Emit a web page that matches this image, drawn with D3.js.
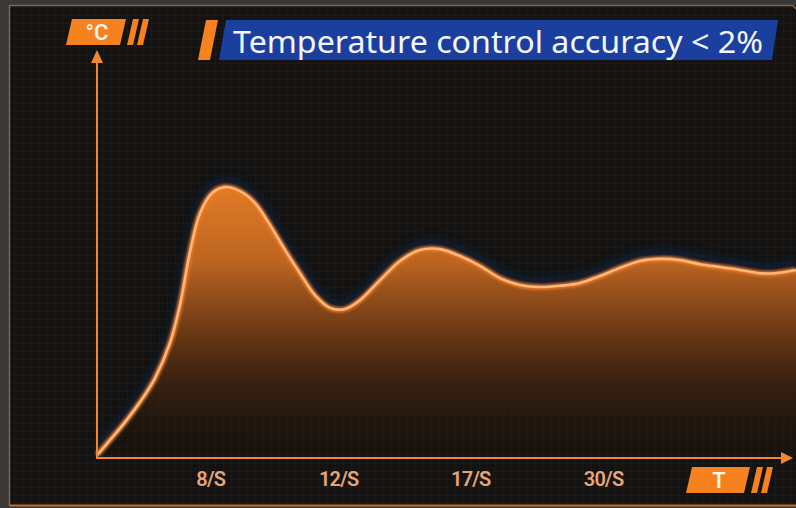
<!DOCTYPE html>
<html>
<head>
<meta charset="utf-8">
<script src="https://cdn.jsdelivr.net/npm/d3@7"></script>
<style>
  html, body { margin: 0; padding: 0; background: #3a3734; }
  svg { display: block; }
</style>
</head>
<body>
<svg width="796" height="508"></svg>
<script>
// time positions (0-100 along the T axis) and temperature (0-100 along the °C axis)
var times = [0, 1.86, 4.01, 6.15, 8.30, 10.44, 11.87, 13.30, 14.74, 16.45, 18.31, 20.46, 22.60,
  24.75, 26.90, 29.04, 31.19, 33.33, 35.48, 37.63, 40.49, 43.35, 46.21, 49.07, 51.93, 54.79,
  57.65, 60.52, 63.38, 66.24, 69.10, 71.96, 74.82, 77.68, 80.54, 83.40, 86.27, 89.13, 91.99,
  94.85, 97.0, 100]
var temps = [0.7, 4.4, 8.8, 13.7, 19.6, 28.2, 37.5, 50.5, 60.0, 64.9, 66.4, 65.4, 62.5,
  57.1, 51.0, 45.3, 39.9, 36.8, 36.5, 38.7, 43.6, 48.3, 51.0, 51.2, 49.5, 47.1,
  44.1, 42.4, 41.9, 42.2, 42.9, 44.6, 46.6, 48.3, 48.8, 48.5, 47.5, 46.8, 46.1,
  45.3, 45.3, 46.1]

var tickLabels = ['8/S', '12/S', '17/S', '30/S']
var tickTimes = [16.2, 34.5, 53.4, 72.4]

var title = 'Temperature control accuracy < 2%'
var yUnit = '°C'
var xUnit = 'T'

var data = times.map(function (t, i) { return {t: t, v: temps[i]} })

var W = 796, H = 508
var origin = {x: 97, y: 458}

var x = d3.scaleLinear().domain([0, 100]).range([origin.x, W])
var y = d3.scaleLinear().domain([0, 100]).range([origin.y, 50])

var svg = d3.select('svg')
var defs = svg.append('defs')

// background grid
var pat = defs.append('pattern')
  .attr('id', 'grid').attr('width', 8).attr('height', 8)
  .attr('patternUnits', 'userSpaceOnUse')
pat.append('rect').attr('width', 8).attr('height', 8).attr('fill', '#141311')
pat.append('path').attr('d', 'M8 0V8M0 8H8')
  .attr('stroke', 'rgba(255,255,255,0.05)').attr('stroke-width', 1)

var fillGrad = defs.append('linearGradient')
  .attr('id', 'fillGrad').attr('gradientUnits', 'userSpaceOnUse')
  .attr('x1', 0).attr('x2', 0).attr('y1', 185).attr('y2', 445)
fillGrad.append('stop').attr('offset', 0).attr('stop-color', '#e37b27')
fillGrad.append('stop').attr('offset', 0.3).attr('stop-color', '#bb6420')
fillGrad.append('stop').attr('offset', 0.6).attr('stop-color', '#6a3814').attr('stop-opacity', 0.9)
fillGrad.append('stop').attr('offset', 1).attr('stop-color', '#201208').attr('stop-opacity', 0.3)

defs.append('filter').attr('id', 'blur').attr('x', '-10%').attr('y', '-30%')
  .attr('width', '120%').attr('height', '160%')
  .append('feGaussianBlur').attr('stdDeviation', 4)

defs.append('filter').attr('id', 'soft')
  .append('feGaussianBlur').attr('stdDeviation', 1.2)

// frame
svg.append('rect').attr('x', 9).attr('y', 5).attr('width', W - 9).attr('height', 500)
  .attr('fill', 'url(#grid)')
svg.append('path').attr('d', 'M9.5 505V5.5H793L796 9')
  .attr('fill', 'none').attr('stroke', '#86674f').attr('stroke-width', 1.5)
svg.append('line').attr('x1', 9).attr('x2', W).attr('y1', 505.5).attr('y2', 505.5)
  .attr('stroke', '#c76a22').attr('stroke-width', 2)

var curve = d3.curveCatmullRom.alpha(0.5)

var area = d3.area()
  .x(function (d) { return x(d.t) })
  .y0(y(0))
  .y1(function (d) { return y(d.v) })
  .curve(curve)

var line = d3.line()
  .x(function (d) { return x(d.t) })
  .y(function (d) { return y(d.v) })
  .curve(curve)

var plot = svg.append('g')

// dark blue halo above the curve
plot.append('path').datum(data)
  .attr('d', line)
  .attr('transform', 'translate(0,-5)')
  .attr('fill', 'none')
  .attr('stroke', '#0d2340')
  .attr('stroke-width', 10)
  .attr('opacity', 0.7)
  .attr('filter', 'url(#blur)')

plot.append('path').datum(data)
  .attr('d', area)
  .attr('fill', 'url(#fillGrad)')

plot.append('path').datum(data)
  .attr('d', line)
  .attr('fill', 'none')
  .attr('stroke', '#f47b20')
  .attr('stroke-width', 6)
  .attr('opacity', 0.8)
  .attr('filter', 'url(#soft)')

plot.append('path').datum(data)
  .attr('d', line)
  .attr('fill', 'none')
  .attr('stroke', '#fab67e')
  .attr('stroke-width', 2.6)

// axes
var axisColor = '#f08634'
svg.append('line')
  .attr('x1', x(0)).attr('x2', x(0)).attr('y1', y(0) + 1).attr('y2', 60)
  .attr('stroke', axisColor).attr('stroke-width', 2)
svg.append('path')
  .attr('d', 'M' + x(0) + ' 50L' + (x(0) + 6) + ' 63L' + (x(0) - 6) + ' 63Z')
  .attr('fill', axisColor)
svg.append('line')
  .attr('x1', x(0) - 1).attr('x2', 784).attr('y1', y(0)).attr('y2', y(0))
  .attr('stroke', axisColor).attr('stroke-width', 2)
svg.append('path')
  .attr('d', 'M793 ' + y(0) + 'L781 ' + (y(0) - 6) + 'L781 ' + (y(0) + 6) + 'Z')
  .attr('fill', axisColor)

var xAxis = d3.axisBottom(x)
  .tickValues(tickTimes)
  .tickFormat(function (d, i) { return tickLabels[i] })
  .tickSize(0)
  .tickPadding(14)

var gx = svg.append('g')
  .attr('transform', 'translate(0,' + y(0) + ')')
  .call(xAxis)
gx.select('.domain').remove()
gx.selectAll('text')
  .attr('fill', '#e6a679')
  .attr('font-family', 'Roboto, sans-serif')
  .attr('font-weight', 600)
  .attr('font-size', 20)
  .attr('letter-spacing', -0.8)

// unit badges
var orange = '#f5821f'
function badge(x0, y0, w, h, label, fs) {
  var k = 6
  svg.append('path')
    .attr('d', 'M' + (x0 + k) + ' ' + y0 + 'H' + (x0 + w) + 'L' + (x0 + w - k) + ' ' + (y0 + h) + 'H' + x0 + 'Z')
    .attr('fill', orange)
  svg.append('path')
    .attr('d', 'M' + (x0 + w + 7) + ' ' + y0 + 'h6l-' + k + ' ' + h + 'h-6Z' +
      'M' + (x0 + w + 17) + ' ' + y0 + 'h6l-' + k + ' ' + h + 'h-6Z')
    .attr('fill', orange)
  svg.append('text')
    .attr('x', x0 + w / 2 + 1).attr('y', y0 + h / 2 + fs * 0.36)
    .attr('text-anchor', 'middle')
    .attr('fill', '#fff8ee')
    .attr('font-family', 'Roboto, sans-serif')
    .attr('font-weight', 500)
    .attr('font-size', fs)
    .text(label)
}
badge(66, 19, 60, 26, yUnit, 22)
badge(686, 467, 64, 26, xUnit, 22)

// title banner
svg.append('path').attr('d', 'M206 20h12l-8 40h-12Z').attr('fill', orange)
svg.append('path').attr('d', 'M226 20H778L772 60H219Z').attr('fill', '#1b3f9e')
svg.append('text')
  .attr('x', 233).attr('y', 53)
  .attr('fill', '#f4f6ff')
  .attr('font-family', '"Noto Sans", sans-serif')
  .attr('font-size', 31)
  .attr('textLength', 530)
  .attr('lengthAdjust', 'spacingAndGlyphs')
  .text(title)
</script>
</body>
</html>
